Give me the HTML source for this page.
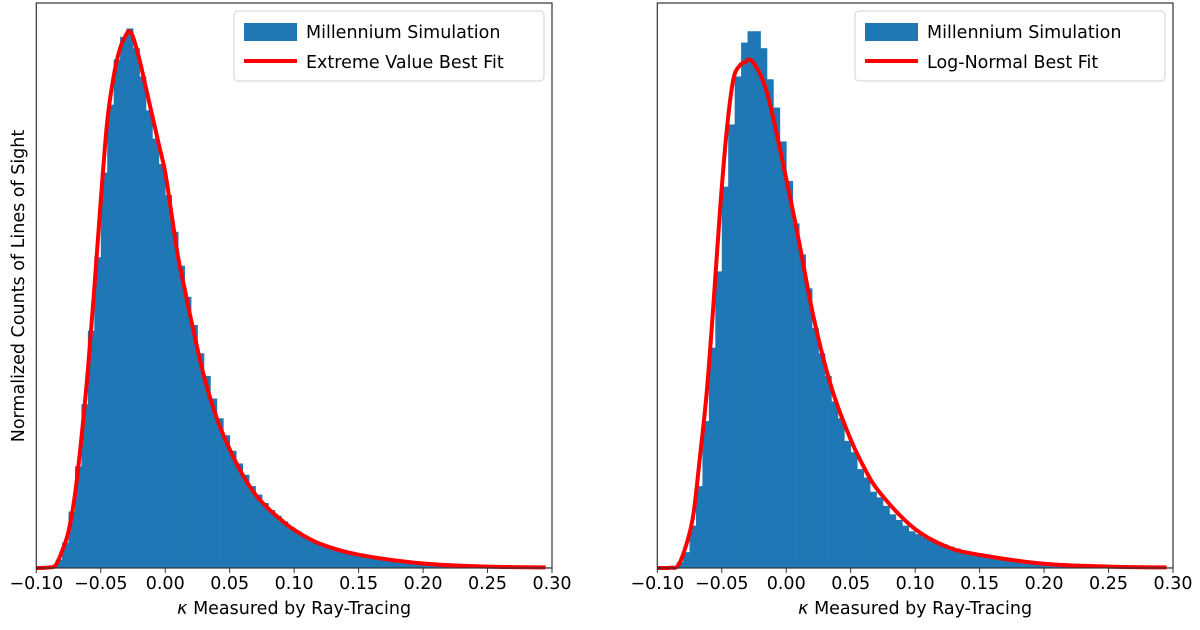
<!DOCTYPE html>
<html><head><meta charset="utf-8"><style>
html,body{margin:0;padding:0;background:#fff;}
svg{display:block;font-family:"DejaVu Sans","Liberation Sans",sans-serif;}
</style></head><body>
<svg id="c" width="1200" height="630" viewBox="0 0 1200 630"></svg>
<script>
const binStart = -0.1;
const binWidth = 0.005;
const xTicks = [-0.10,-0.05,0.00,0.05,0.10,0.15,0.20,0.25,0.30];
const xTickLabels = ["\u22120.10","\u22120.05","0.00","0.05","0.10","0.15","0.20","0.25","0.30"];
const leftHist = [0,0,0.05,0.3,0.9,2.0,3.6,5.8,8.4,11.0,14.0,16.4,18.0,18.8,19.1,18.4,17.4,16.2,15.2,14.3,13.2,11.9,10.7,9.6,8.6,7.6,6.8,6.0,5.3,4.7,4.15,3.7,3.3,2.9,2.6,2.3,2.05,1.85,1.65,1.45,1.3,1.15,1.02,0.92,0.83,0.75,0.67,0.6,0.54,0.49,0.40,0.36,0.32,0.29,0.26,0.23,0.21,0.19,0.17,0.15,0.14,0.12,0.11,0.10,0.09,0.08,0.07,0.065,0.06,0.055,0.05,0.045,0.04,0.037,0.034,0.03,0.028,0.025,0.022,0.02];
const rightHist = [0,0,0.05,0.2,0.56,1.5,2.9,5.2,7.8,10.5,13.5,15.7,17.4,18.6,19.0,19.0,18.4,17.3,16.3,15.1,13.7,12.2,11.1,9.9,8.5,7.6,6.8,5.9,5.3,4.5,4.1,3.5,3.2,2.7,2.5,2.2,1.9,1.7,1.5,1.3,1.2,1.1,1.0,0.92,0.84,0.76,0.69,0.62,0.56,0.5,0.45,0.41,0.37,0.33,0.3,0.27,0.24,0.22,0.2,0.18,0.16,0.145,0.13,0.12,0.11,0.1,0.09,0.08,0.07,0.065,0.06,0.055,0.05,0.045,0.04,0.036,0.032,0.028,0.025,0.022];
const leftFitX = [-0.1,-0.09,-0.085,-0.08,-0.075,-0.07,-0.065,-0.06,-0.055,-0.05,-0.045,-0.04,-0.035,-0.03,-0.028,-0.025,-0.02,-0.015,-0.01,-0.005,0,0.005,0.01,0.015,0.02,0.03,0.04,0.05,0.06,0.07,0.08,0.09,0.1,0.12,0.15,0.2,0.25,0.295];
const leftFitY = [0,0.02,0.1,0.6,1.3,2.6,4.6,7.0,9.9,13.0,15.8,17.4,18.4,18.9,19.0,18.8,18.0,17.0,16.0,15.0,14.0,12.5,11.0,9.9,8.8,6.8,5.3,4.2,3.3,2.6,2.1,1.7,1.35,0.86,0.47,0.16,0.05,0.02];
const rightFitX = [-0.1,-0.09,-0.0837,-0.077,-0.072,-0.067,-0.0617,-0.0565,-0.0513,-0.0461,-0.041,-0.0358,-0.0319,-0.028,-0.0228,-0.0176,-0.0125,-0.0047,0.0082,0.0211,0.0341,0.047,0.06,0.0729,0.0988,0.1247,0.1506,0.2,0.25,0.295];
const rightFitY = [0,0.01,0.1,0.9,1.9,3.9,6.2,9.3,12.7,15.5,17.3,17.8,17.9,18.0,17.7,17.2,16.4,14.8,11.96,8.9,6.54,4.88,3.59,2.65,1.42,0.75,0.46,0.15,0.05,0.02];

const NS="http://www.w3.org/2000/svg";
const svgEl=document.getElementById('c');
function mk(tag,attrs,parent){const e=document.createElementNS(NS,tag);for(const k in attrs)e.setAttribute(k,attrs[k]);(parent||svgEl).appendChild(e);return e;}
function smoothPath(pts){
  let d='M'+pts[0][0].toFixed(2)+','+pts[0][1].toFixed(2);
  for(let i=0;i<pts.length-1;i++){
    const p0=pts[Math.max(0,i-1)],p1=pts[i],p2=pts[i+1],p3=pts[Math.min(pts.length-1,i+2)];
    const c1x=p1[0]+(p2[0]-p0[0])/6,c1y=p1[1]+(p2[1]-p0[1])/6;
    const c2x=p2[0]-(p3[0]-p1[0])/6,c2y=p2[1]-(p3[1]-p1[1])/6;
    d+='C'+c1x.toFixed(2)+','+c1y.toFixed(2)+' '+c2x.toFixed(2)+','+c2y.toFixed(2)+' '+p2[0].toFixed(2)+','+p2[1].toFixed(2);
  }
  return d;
}

const plotTop=3,plotBottom=568,yMax=565/28.25;
function panel(x0,x1,hist,fx,fy,fitLabel,prefix){
  const g=mk('g',{});
  
  
  const sx=v=>x0+(v+0.1)/0.4*(x1-x0);
  const sy=v=>plotBottom-v/yMax*(plotBottom-plotTop);
  hist.forEach((v,i)=>{
    const a=sx(binStart+i*binWidth),b=sx(binStart+(i+1)*binWidth);
    const r=mk('rect',{x:a,y:sy(v),width:b-a+0.4,height:plotBottom-sy(v),fill:'#1f77b4'},g);
    
    
  });
  const pts=fx.map((v,i)=>[sx(v),sy(fy[i])]);
  const p=mk('path',{d:smoothPath(pts),fill:'none',stroke:'#ff0000','stroke-width':4,'stroke-linejoin':'round'},g);
  
  
  const f=mk('rect',{x:x0,y:plotTop,width:x1-x0,height:plotBottom-plotTop,fill:'none',stroke:'#333','stroke-width':1.2},g);
  
  
  xTicks.forEach((t,i)=>{
    const X=sx(t);
    const tk=mk('line',{x1:X,x2:X,y1:plotBottom,y2:plotBottom+5,stroke:'#333','stroke-width':1},g);
    
    
    const tl=mk('text',{x:X,y:plotBottom+21,'text-anchor':'middle','font-size':17.5,fill:'#000'},g);
    tl.textContent=xTickLabels[i];
    
    
  });
  const xt=mk('text',{x:(x0+x1)/2,y:614,'text-anchor':'middle','font-size':17.5,fill:'#000'},g);
  const k=mk('tspan',{'font-style':'italic'},xt);
  k.textContent='\u03ba';
  const rest=mk('tspan',{},xt);
  rest.textContent=' Measured by Ray-Tracing';
  
  
  const lg=mk('g',{},g);
  
  
  const lx=x1-318, ly=11;
  mk('rect',{x:lx,y:ly,width:310,height:70,rx:4,fill:'#fff',stroke:'#ccc','stroke-width':1,opacity:0.9},lg);
  const pt=mk('rect',{x:lx+10,y:ly+12,width:53,height:18,fill:'#1f77b4'},lg);
  
  
  const t1=mk('text',{x:lx+72,y:ly+27,'font-size':17.5,fill:'#000'},lg);
  t1.textContent='Millennium Simulation';
  
  
  const ln=mk('line',{x1:lx+10,x2:lx+63,y1:ly+50,y2:ly+50,stroke:'#ff0000','stroke-width':4},lg);
  
  
  const t2=mk('text',{x:lx+72,y:ly+57,'font-size':17.5,fill:'#000'},lg);
  t2.textContent=fitLabel;
  
  
}
panel(36.3,552,leftHist,leftFitX,leftFitY,'Extreme Value Best Fit','left');
panel(657.3,1173,rightHist,rightFitX,rightFitY,'Log-Normal Best Fit','right');
const yl=mk('text',{x:0,y:0,transform:'translate(24,286) rotate(-90)','text-anchor':'middle','font-size':17.5,fill:'#000'});
yl.textContent='Normalized Counts of Lines of Sight';


</script>
</body></html>
